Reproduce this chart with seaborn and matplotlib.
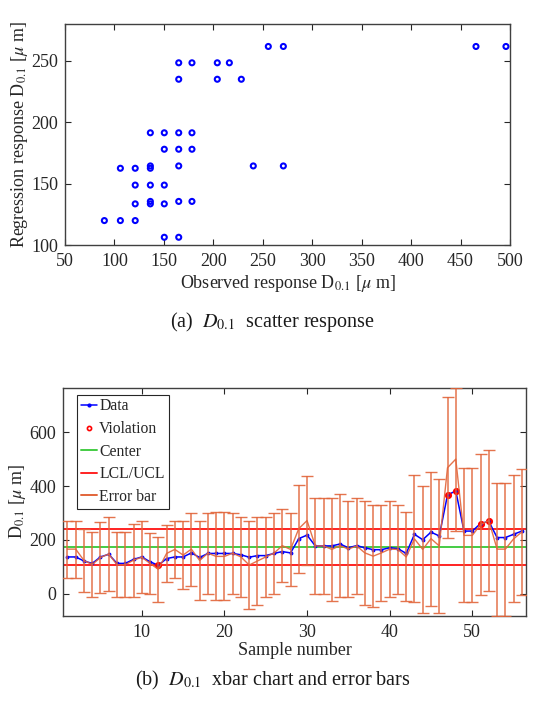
import numpy as np
import pandas as pd
import matplotlib
matplotlib.use("Agg")
import matplotlib.pyplot as plt
from matplotlib.lines import Line2D
import seaborn as sns

# ---------------- data: scatter (a) ----------------
obs_x = [255.6, 270.8, 465.6, 495.9,
         165, 178.4, 204, 216.2,
         165, 204, 228.3,
         136.3, 150.4, 165, 178.4,
         150.4, 165, 178.4,
         136.3, 165, 240.4, 270.8,
         106, 121, 136.3,
         121, 136.3, 150.4,
         136.3, 165, 178.4,
         121, 136.3, 150.4,
         89.8, 106, 121,
         150.4, 165]
reg_y = [261.7, 261.7, 261.7, 261.7,
         248.4, 248.4, 248.4, 248.4,
         235, 235, 235,
         191.4, 191.4, 191.4, 191.4,
         178, 178, 178,
         164.4, 164.4, 164.4, 164.4,
         162.5, 162.5, 162.5,
         148.8, 148.8, 148.8,
         135.5, 135.5, 135.5,
         133.5, 133.5, 133.5,
         119.9, 119.9, 119.9,
         106.3, 106.3]

# ---------------- data: xbar chart (b) ----------------
sample = list(range(1, 57))
data_vals = [137, 137, 122, 113, 137, 147, 113, 113, 128, 137,
             119, 106, 131, 137, 137, 152, 135, 150, 150, 150,
             150, 145, 136, 142, 142, 150, 157, 152, 205, 218,
             178, 178, 178, 185, 171, 179, 171, 164, 164, 171,
             168, 150, 221, 201, 229, 215, 367, 382, 233, 233,
             261, 269, 209, 209, 221, 233]
bar_mean = [166, 166, 124, 109, 135, 148, 108, 108, 125, 136,
            113, 91, 150, 165, 144, 166, 124, 151, 139, 139,
            151, 137, 107, 122, 137, 151, 179, 165, 242, 272,
            178, 178, 165, 179, 166, 178, 152, 140, 152, 166,
            165, 137, 204, 165, 205, 178, 468, 500, 217, 217,
            257, 272, 166, 166, 204, 230]
bar_err = [106, 106, 118, 120, 133, 136, 120, 120, 135, 134,
           114, 120, 105, 105, 126, 135, 146, 150, 163, 163,
           150, 148, 162, 162, 148, 150, 135, 136, 163, 165,
           178, 178, 191, 191, 178, 178, 192, 190, 178, 178,
           165, 165, 236, 236, 249, 250, 262, 265, 249, 249,
           262, 263, 247, 247, 236, 235]
center_val = 174.5
ucl_val = 241
lcl_val = 108

x_ticks_b = [10, 20, 30, 40, 50]
y_ticks_b = [0, 200, 400, 600]
legend_labels = ["Data", "Violation", "Center", "LCL/UCL", "Error bar"]

# ---------------- style ----------------
sns.set_theme(style="ticks")
plt.rcParams['font.family'] = ['Liberation Serif', 'DejaVu Serif']
plt.rcParams['mathtext.fontset'] = 'stix'
plt.rcParams['axes.edgecolor'] = '0.25'
plt.rcParams['xtick.color'] = '0.15'
plt.rcParams['ytick.color'] = '0.15'
plt.rcParams['axes.labelcolor'] = '0.15'

W, H = 545, 703
fig = plt.figure(figsize=(W / 100, H / 100), dpi=100)

C_DATA = 'blue'
C_VIOL = 'red'
C_CENTER = '#44cc44'
C_LIM = '#ff2222'
C_ERR = '#e2653a'

def frame(ax):
    ax.tick_params(direction='in', top=True, right=True, labelsize=13,
                   length=4, width=0.8, colors='0.15')
    ax.tick_params(axis='x', pad=6)
    ax.tick_params(axis='y', pad=5)
    for s in ax.spines.values():
        s.set_visible(True)
        s.set_linewidth(1.0)
        s.set_color('0.25')

# ---------------- (a) scatter ----------------
ax1 = fig.add_axes([65 / W, 1 - 245 / H, 445 / W, 221 / H])
df_a = pd.DataFrame({"obs": obs_x, "reg": reg_y})
sns.scatterplot(data=df_a, x="obs", y="reg", ax=ax1, marker='o', s=13,
                facecolor='none', edgecolor=C_DATA, linewidth=1.5, legend=False)
ax1.set_xlim(50, 500)
ax1.set_ylim(100, 280)
ax1.set_xticks(np.arange(50, 501, 50))
ax1.set_yticks([100, 150, 200, 250])
ax1.set_xlabel(r"Observed response D$_{0.1}$ [$\mu$ m]", fontsize=13, labelpad=2)
ax1.set_ylabel(r"Regression response D$_{0.1}$ [$\mu$ m]", fontsize=13, labelpad=1)
frame(ax1)
fig.text(0.5, 1 - 322 / H, r"(a)  $D_{0.1}$  scatter response", ha='center',
         va='center', fontsize=14.5, color='0.1')

# ---------------- (b) xbar chart ----------------
ax2 = fig.add_axes([63.3 / W, 1 - 615.7 / H, 462.7 / W, 228 / H])
df_b = pd.DataFrame({"sample": sample, "data": data_vals,
                     "mean": bar_mean, "err": bar_err})
df_b["lo"] = df_b["mean"] - df_b["err"]
df_b["hi"] = df_b["mean"] + df_b["err"]
viol = df_b[(df_b["data"] > ucl_val) | (df_b["data"] < lcl_val)]

sns.lineplot(data=df_b, x="sample", y="data", ax=ax2, color=C_DATA, lw=1.1,
             marker='.', markersize=4, mec=C_DATA, legend=False, zorder=3)
ax2.plot(viol["sample"], viol["data"], 'o', ms=3.5, mfc='none', mec=C_VIOL,
         mew=1.6, zorder=4)
ax2.axhline(center_val, color=C_CENTER, lw=1.4, zorder=2)
ax2.axhline(ucl_val, color=C_LIM, lw=1.4, zorder=2)
ax2.axhline(lcl_val, color=C_LIM, lw=1.4, zorder=2)
ax2.errorbar(df_b["sample"], df_b["mean"], yerr=df_b["err"], color=C_ERR,
             ecolor=C_ERR, lw=1.0, elinewidth=1.1, capsize=4, capthick=1.0,
             alpha=0.9, zorder=5)

ax2.set_xlim(0.5, 56.5)
ax2.set_ylim(df_b["lo"].min(), df_b["hi"].max())
ax2.set_xticks(x_ticks_b)
ax2.set_yticks(y_ticks_b)
ax2.set_xlabel("Sample number", fontsize=13, labelpad=1)
ax2.set_ylabel(r"D$_{0.1}$ [$\mu$ m]", fontsize=13, labelpad=1)
frame(ax2)

handles = [
    Line2D([], [], color=C_DATA, lw=1.1, marker='.', ms=4),
    Line2D([], [], ls='none', marker='o', ms=3, mfc='none', mec=C_VIOL, mew=1.2),
    Line2D([], [], color=C_CENTER, lw=1.4),
    Line2D([], [], color=C_LIM, lw=1.4),
    Line2D([], [], color=C_ERR, lw=1.4),
]
leg = ax2.legend(handles, legend_labels, loc='upper left',
                 bbox_to_anchor=(0.03, 0.97), borderaxespad=0,
                 fontsize=11.3, handlelength=1.0, handletextpad=0.15,
                 labelspacing=0.42, borderpad=0.25, fancybox=False,
                 framealpha=1, edgecolor='0.15')
leg.get_frame().set_linewidth(0.8)
fig.text(0.5, 1 - 680 / H, r"(b)  $D_{0.1}$  xbar chart and error bars",
         ha='center', va='center', fontsize=14.5, color='0.1')

fig.savefig("out.png", dpi=100)
